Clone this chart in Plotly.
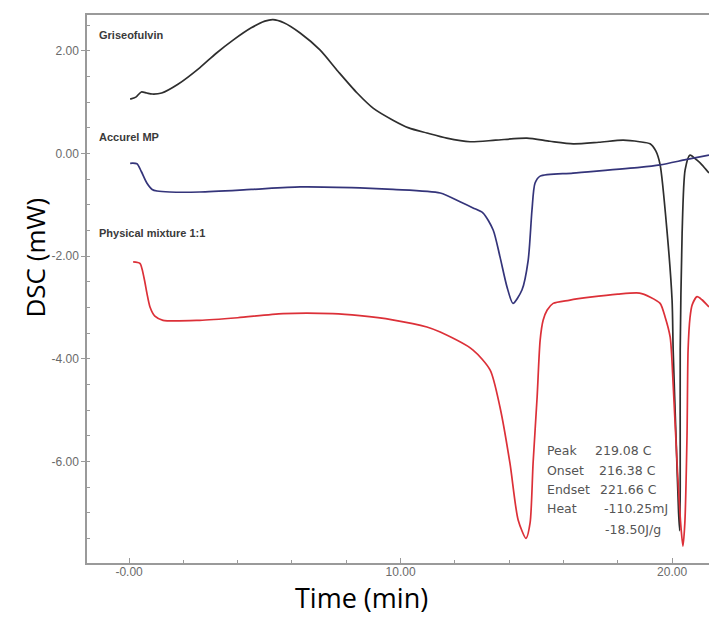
import plotly.graph_objects as go

# DSC thermograms: heat flow (mW) versus time (min)
gris_time = [0.04, 0.25, 0.45, 0.65, 0.85, 1.2, 1.8, 2.6, 3.2, 3.83, 4.5, 5.0, 5.3, 5.7,
             6.3, 7.03, 7.7, 8.4, 9.0, 9.72, 10.3, 10.97, 11.7, 12.56, 13.5, 14.65, 15.5,
             16.36, 17.3, 18.2, 18.8, 19.19, 19.4, 19.56, 19.82, 20.0, 20.04, 20.15, 20.24,
             20.28, 20.30, 20.30, 20.37, 20.48, 20.66, 20.92, 21.1, 21.36]
gris_dsc = [1.06, 1.10, 1.20, 1.18, 1.16, 1.18, 1.35, 1.67, 1.95, 2.21, 2.45, 2.58, 2.61, 2.55,
            2.35, 2.02, 1.60, 1.18, 0.88, 0.65, 0.50, 0.40, 0.30, 0.23, 0.26, 0.30, 0.24,
            0.19, 0.22, 0.26, 0.23, 0.19, 0.05, -0.22, -1.55, -2.86, -3.83, -5.6, -7.0,
            -7.35, -6.5, -3.83, -1.55, -0.32, -0.03, -0.13, -0.22, -0.38]

accurel_time = [0.04, 0.29, 0.45, 0.66, 0.85, 1.03, 1.5, 2.6, 4.5, 6.3, 8.5, 9.72, 11.46,
                12.19, 12.67, 13.04, 13.41, 13.66, 13.92, 14.14, 14.47, 14.7, 14.84, 14.95,
                15.14, 16.35, 18.8, 19.56, 20.5, 21.36]
accurel_dsc = [-0.19, -0.20, -0.35, -0.58, -0.70, -0.73, -0.75, -0.75, -0.70, -0.65, -0.67,
               -0.70, -0.77, -0.94, -1.06, -1.16, -1.49, -2.01, -2.60, -2.92, -2.66, -2.08,
               -1.10, -0.58, -0.44, -0.38, -0.27, -0.22, -0.12, -0.03]

mix_time = [0.15, 0.40, 0.55, 0.66, 0.77, 0.95, 1.25, 2.6, 4.0, 5.67, 7.5, 8.5, 9.7, 10.97,
            11.46, 12.67, 13.3, 13.66, 14.03, 14.33, 14.62, 14.77, 14.88, 15.03, 15.14,
            15.25, 15.40, 15.62, 16.2, 16.98, 18.0, 18.8, 19.2, 19.56, 19.74, 19.93, 20.04,
            20.2, 20.33, 20.4, 20.47, 20.55, 20.59, 20.66, 20.74, 20.92, 21.1, 21.36]
mix_dsc = [-2.11, -2.14, -2.42, -2.73, -2.99, -3.17, -3.25, -3.25, -3.20, -3.12, -3.12, -3.16,
           -3.24, -3.38, -3.48, -3.83, -4.22, -4.94, -6.04, -7.14, -7.50, -7.20, -6.04, -4.74,
           -3.64, -3.25, -3.05, -2.92, -2.86, -2.80, -2.74, -2.72, -2.80, -2.92, -3.18, -3.58,
           -4.5, -6.2, -7.3, -7.65, -7.2, -5.5, -3.83, -3.2, -2.95, -2.79, -2.85, -2.99]

series_names = ["Griseofulvin", "Accurel MP", "Physical mixture 1:1"]
series_colors = ["#2e2e2e", "#34347a", "#dc3038"]

y_ticks = [2, 0, -2, -4, -6]
y_ticktext = ["2.00", "0.00", "-2.00", "-4.00", "-6.00"]
x_ticks = [0, 10, 20]
x_ticktext = ["-0.00", "10.00", "20.00"]

# Peak analysis of the mixture's melting endotherm
peak_labels = ["Peak", "Onset", "Endset", "Heat", ""]
peak_values = ["219.08 C", "216.38 C", "221.66 C", "-110.25mJ", "-18.50J/g"]

fig = go.Figure()
for t, d, name, col in zip([gris_time, accurel_time, mix_time],
                           [gris_dsc, accurel_dsc, mix_dsc],
                           series_names, series_colors):
    fig.add_trace(go.Scatter(x=t, y=d, mode="lines", name=name,
                             line=dict(color=col, width=1.7, shape="spline", smoothing=0.7)))

axis_col = "#9a9a9a"
fig.update_layout(
    width=709, height=617,
    margin=dict(l=87, r=0, t=15, b=54),
    paper_bgcolor="white", plot_bgcolor="white",
    showlegend=False,
    xaxis=dict(range=[-1.55, 21.36], showgrid=False, zeroline=False,
               showline=True, linecolor=axis_col, linewidth=1.5, mirror=True,
               tickvals=x_ticks, ticktext=x_ticktext, ticks="inside", ticklen=5,
               tickcolor=axis_col, ticklabelstandoff=-3,
               minor=dict(dtick=2, tick0=0, ticks="inside", ticklen=3, tickcolor=axis_col),
               tickfont=dict(family="Liberation Sans", size=12, color="#6a6a6a")),
    yaxis=dict(range=[-7.98, 2.70], showgrid=False, zeroline=False,
               showline=True, linecolor=axis_col, linewidth=1.5, mirror=False,
               tickvals=y_ticks, ticktext=y_ticktext, ticks="outside", ticklen=4,
               tickcolor=axis_col,
               minor=dict(dtick=0.5, tick0=0, ticks="inside", ticklen=3, tickcolor=axis_col),
               tickfont=dict(family="Liberation Sans", size=12, color="#6a6a6a")),
)

# curve labels
label_pos = [2.31, 0.32, -1.55]
for name, yy in zip(series_names, label_pos):
    fig.add_annotation(x=-1.18, y=yy, xref="x", yref="y", text="<b>%s</b>" % name,
                       showarrow=False, xanchor="left", yanchor="middle",
                       font=dict(family="Liberation Sans", size=11, color="#3a3a3a"))

# peak analysis text block
line_y = [-5.78, -6.17, -6.54, -6.91, -7.32]
value_x = [17.09, 17.24, 17.27, 17.42, 17.46]
for lab, val, yy, vx in zip(peak_labels, peak_values, line_y, value_x):
    if lab:
        fig.add_annotation(x=15.32, y=yy, xref="x", yref="y", text=lab, showarrow=False,
                           xanchor="left", yanchor="middle",
                           font=dict(family="DejaVu Sans", size=12.5, color="#555555"))
    fig.add_annotation(x=vx, y=yy, xref="x", yref="y", text=val, showarrow=False,
                       xanchor="left", yanchor="middle",
                       font=dict(family="DejaVu Sans", size=12.5, color="#555555"))

# axis titles
fig.add_annotation(x=0.441, y=-0.0985, xref="paper", yref="paper", text="Time (min)",
                   showarrow=False, xanchor="center", yanchor="bottom", borderpad=0,
                   font=dict(family="Open Sans", size=27, color="black"))
fig.add_annotation(x=-0.084, y=0.557, xref="paper", yref="paper", text="DSC (mW)",
                   showarrow=False, xanchor="center", yanchor="middle", textangle=-90,
                   font=dict(family="Open Sans", size=26, color="black"))

fig.write_html("out.html")
